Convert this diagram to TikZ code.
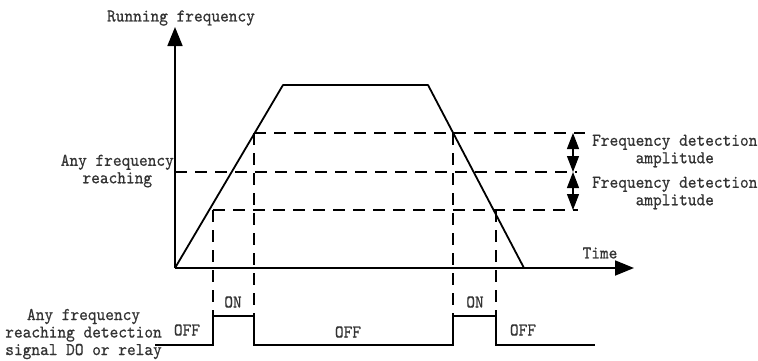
\documentclass[tikz,border=0pt]{standalone}
\usepackage{fontspec}
\setmonofont[FakeStretch=0.92,FakeBold=0.6]{lmmono10-regular.otf}
\usetikzlibrary{arrows.meta}
\tikzstyle{axis} = [line width=1.8pt,-{Triangle[width=15pt,length=19pt]}]
\tikzstyle{curve} = [line width=1.8pt]
\tikzstyle{level} = [line width=1.8pt, dash pattern=on 12pt off 8pt]
\tikzstyle{span} = [line width=1.2pt,{Triangle[width=12pt,length=16pt]}-{Triangle[width=12pt,length=16pt]}]
\tikzstyle{lbl} = [font=\ttfamily\fontsize{18}{17.5}\selectfont, text=black!80, inner sep=0pt, align=center]

\begin{document}
\begin{tikzpicture}[x=1pt,y=-1pt]
            \useasboundingbox (0,0) rectangle (758,360);
            % axes
            \coordinate (origin) at (175,268);
            \coordinate (ytip) at (175,27);
            \coordinate (xtip) at (634,268);
            \draw [axis] (origin) -- (ytip);
            \draw [axis] (origin) -- (xtip);

            % running frequency curve
            \coordinate (rise) at (283,85);
            \coordinate (fall) at (428,85);
            \coordinate (stop) at (524,268);
            \draw [curve, line join=round] (origin) -- (rise) -- (fall) -- (stop);

            % detection levels
            \draw [level] (254,133) -- (585,133);
            \draw [level] (origin |- 0,172) -- (577,172);
            \draw [level] (213,210) -- (578,210);
            \draw [level] (213,210) -- (213,316);
            \draw [level] (254,133) -- (254,316);
            \draw [level] (453,133) -- (453,316);
            \draw [level] (496,210) -- (496,316);

            % amplitude markers
            \coordinate (top) at (573,133);
            \coordinate (mid) at (573,172);
            \coordinate (low) at (573,210);
            \draw [span] (top) -- (mid);
            \draw [span] (mid) -- (low);

            % output signal
            \draw [curve] (155,345) -| (213,316) -| (254,345) -| (453,316) -| (496,345) -- (595,345);

            \node (runfreq) [lbl] at (181,18) {Running frequency};
            \node (anyfreq) [lbl, anchor=east] at (174,171) {Any frequency\\reaching};
            \node (amp1) [lbl, anchor=west] at (592,151) {Frequency detection\\amplitude};
            \node (amp2) [lbl, anchor=west] at (592,193) {Frequency detection\\amplitude};
            \node (time) [lbl] at (600,253) {Time};
            \node (on1) [lbl] at (233,302) {ON};
            \node (on2) [lbl] at (475,302) {ON};
            \node (off1) [lbl] at (187,330) {OFF};
            \node (off2) [lbl] at (348,332) {OFF};
            \node (off3) [lbl] at (523,330) {OFF};
            \node (signal) [lbl, anchor=east] at (162,334) {Any frequency\\reaching detection\\signal DO or relay};
\end{tikzpicture}
\end{document}
